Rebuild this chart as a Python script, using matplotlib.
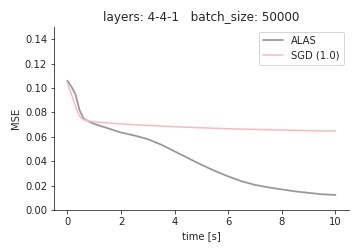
import matplotlib
matplotlib.use("Agg")
import matplotlib.pyplot as plt
import seaborn as sns

sns.set_style("ticks")

# ALAS curve
alas_t = [0.0, 0.15, 0.3, 0.45, 0.6, 0.8, 1.0, 1.5, 2.0, 2.5, 3.0, 3.5, 4.0, 4.5, 5.0, 5.5, 6.0, 6.5, 7.0, 7.5, 8.0, 8.5, 9.0, 9.5, 10.0]
alas_mse = [0.106, 0.101, 0.095, 0.082, 0.075, 0.0725, 0.0705, 0.067, 0.0635, 0.061, 0.058, 0.0535, 0.048, 0.0425, 0.037, 0.032, 0.0275, 0.0235, 0.0205, 0.0185, 0.0168, 0.0152, 0.014, 0.0128, 0.0123]

# SGD (1.0) curve
sgd_t = [0.0, 0.15, 0.3, 0.45, 0.6, 0.8, 1.0, 2.0, 3.0, 4.0, 5.0, 6.0, 7.0, 8.0, 9.0, 10.0]
sgd_mse = [0.104, 0.095, 0.085, 0.077, 0.074, 0.0728, 0.0722, 0.0705, 0.0693, 0.0682, 0.0673, 0.0666, 0.066, 0.0655, 0.065, 0.0646]

fig = plt.figure(figsize=(5, 3.5), dpi=72)
ax = fig.add_axes([0.15, 0.167, 0.819, 0.726])
ax.plot(alas_t, alas_mse, color="grey", alpha=0.8, lw=1.8, label="ALAS")
ax.plot(sgd_t, sgd_mse, color="lightpink", lw=1.5, label="SGD (1.0)")
ax.set_xlim(-0.5, 10.5)
ax.set_ylim(0, 0.15)
ax.set_yticks([0, 0.02, 0.04, 0.06, 0.08, 0.10, 0.12, 0.14])
ax.set_xticks([0, 2, 4, 6, 8, 10])
ax.set_xlabel("time [s]")
ax.set_ylabel("MSE")
ax.set_title("layers: 4-4-1   batch_size: 50000")
ax.legend(loc="upper right")
sns.despine(ax=ax)
fig.savefig("out.png", dpi=72)
